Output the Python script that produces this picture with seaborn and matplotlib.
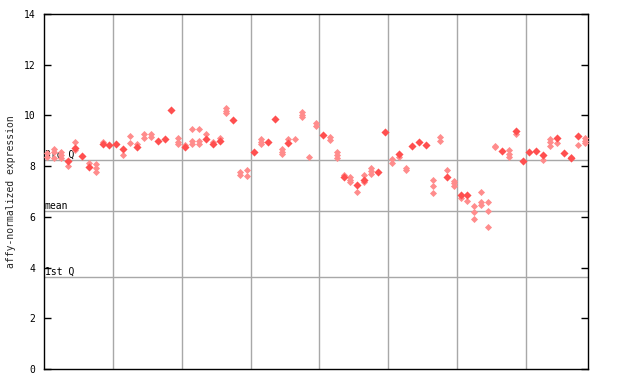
import matplotlib
matplotlib.use("Agg")
import matplotlib.pyplot as plt
import seaborn as sns
import pandas as pd

# ---- data ----
n_samples = 79
y_ticks = [0, 2, 4, 6, 8, 10, 12, 14]
quartile_labels = ["3rd Q", "mean", "1st Q"]
quartile_values = [8.24, 6.22, 3.62]
group_bounds = [9.5, 19.5, 29.5, 39.5, 49.5, 59.5, 69.5]

filled_idx = [3, 4, 5, 6, 8, 9, 10, 11, 13, 16, 17, 18, 20, 23, 24, 25, 27, 30, 32, 33,
              35, 40, 43, 45, 46, 48, 49, 51, 53, 54, 55, 58, 60, 61, 66, 68, 69, 70, 71,
              72, 74, 75, 76, 77]
filled_val = [8.21, 8.72, 8.41, 7.98, 8.86, 8.83, 8.86, 8.66, 8.77, 9.01, 9.06, 10.23,
              8.74, 9.08, 8.86, 8.99, 9.83, 8.57, 8.96, 9.87, 8.90, 9.24, 7.56, 7.27,
              7.45, 7.78, 9.35, 8.48, 8.81, 8.94, 8.83, 7.58, 6.86, 6.86, 8.60, 9.40,
              8.20, 8.54, 8.60, 8.44, 9.10, 8.50, 8.31, 9.20]

hatched_idx = [0, 0, 1, 1, 1, 2, 2, 2, 3, 4, 4, 6, 7, 7, 7, 8, 11, 12, 12, 13, 14, 14,
               15, 15, 19, 19, 19, 20, 21, 21, 21, 22, 22, 22, 23, 24, 25, 26, 26, 26,
               28, 28, 29, 29, 31, 31, 31, 34, 34, 34, 35, 36, 37, 37, 37, 38, 39, 39,
               41, 41, 42, 42, 42, 43, 44, 44, 44, 45, 46, 46, 47, 47, 47, 50, 50, 51,
               52, 52, 56, 56, 56, 57, 57, 58, 59, 59, 59, 60, 61, 62, 62, 62, 63, 63,
               63, 64, 64, 64, 65, 65, 67, 67, 67, 68, 72, 73, 73, 73, 74, 76, 77, 78,
               78, 78]
hatched_val = [8.50, 8.38, 8.68, 8.55, 8.33, 8.57, 8.44, 8.33, 8.02, 8.97, 8.62, 8.14,
               8.07, 7.91, 7.75, 8.95, 8.43, 9.19, 8.91, 8.87, 9.25, 9.12, 9.25, 9.16,
               9.10, 8.96, 8.86, 8.82, 9.46, 9.01, 8.86, 9.46, 9.00, 8.86, 9.27, 8.96,
               9.10, 10.28, 10.19, 10.09, 7.75, 7.65, 7.85, 7.61, 9.06, 8.96, 8.86, 8.68,
               8.57, 8.48, 9.06, 9.07, 10.12, 10.02, 9.92, 8.36, 9.69, 9.60, 9.14, 9.03,
               8.54, 8.44, 8.33, 7.64, 7.56, 7.45, 7.36, 6.99, 7.65, 7.36, 7.91, 7.81,
               7.68, 8.28, 8.11, 8.35, 7.91, 7.83, 7.45, 7.22, 6.94, 9.16, 9.00, 7.83,
               7.41, 7.32, 7.23, 6.73, 6.64, 6.43, 6.18, 5.90, 6.99, 6.60, 6.47, 6.57,
               6.24, 5.59, 8.80, 8.74, 8.62, 8.48, 8.36, 9.27, 8.23, 9.07, 8.96, 8.78,
               8.90, 8.38, 8.82, 9.10, 8.99, 8.90]

# ---- figure ----
sns.set_style("white")
plt.rcParams["font.family"] = ["DejaVu Sans Mono"]
fig = plt.figure(figsize=(6.4, 3.84), dpi=100)
ax = fig.add_axes([44 / 640, 15 / 384, 544 / 640, 355 / 384])

grid_col = "#a8a8a8"
for xb in group_bounds:
    ax.axvline(xb, color=grid_col, lw=1, zorder=1)
for qv, ql in zip(quartile_values, quartile_labels):
    ax.axhline(qv, color=grid_col, lw=1, zorder=1)
    ax.text(-0.4, qv + 0.03, ql, fontsize=7, color="black", ha="left",
            va="bottom", zorder=2)

df_h = pd.DataFrame({"x": hatched_idx, "y": hatched_val})
df_f = pd.DataFrame({"x": filled_idx, "y": filled_val})
sns.scatterplot(data=df_h, x="x", y="y", ax=ax, marker="D", s=13,
                color="#ff8c8c", linewidth=0, zorder=3)
sns.scatterplot(data=df_f, x="x", y="y", ax=ax, marker="D", s=17,
                color="#ff4f4f", linewidth=0, zorder=4)

ax.set_xlim(-0.5, n_samples - 0.5)
ax.set_ylim(0, 14)
ax.set_yticks(y_ticks)
ax.set_yticklabels([str(t) for t in y_ticks], fontsize=7)
ax.set_xticks([])
ax.set_xlabel("")
ax.set_ylabel("affy-normalized expression", fontsize=7, labelpad=6)
ax.tick_params(axis="y", direction="in", length=5, width=1, left=True,
               right=True, pad=6, colors="black")
for sp in ax.spines.values():
    sp.set_visible(True)
    sp.set_color("black")
    sp.set_linewidth(1)

fig.savefig("out.png", dpi=100)
